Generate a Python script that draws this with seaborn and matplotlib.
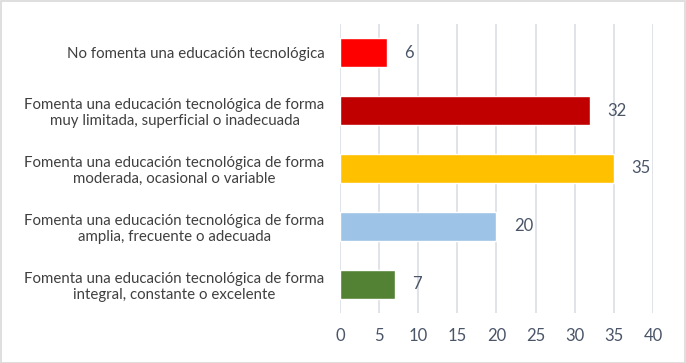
import numpy as np
import pandas as pd
import seaborn as sns
import matplotlib.pyplot as plt
from matplotlib.patches import Rectangle

categorias = [
    "No fomenta una educación tecnológica",
    "Fomenta una educación tecnológica de forma\nmuy limitada, superficial o inadecuada",
    "Fomenta una educación tecnológica de forma\nmoderada, ocasional o variable",
    "Fomenta una educación tecnológica de forma\namplia, frecuente o adecuada",
    "Fomenta una educación tecnológica de forma\nintegral, constante o excelente",
]
valores = [6, 32, 35, 20, 7]
colores = ["#FF0000", "#C00000", "#FFC000", "#9DC3E6", "#548235"]

df = pd.DataFrame({"categoria": categorias, "valor": valores})

sns.set_style("white")
plt.rcParams['font.family'] = ['Lato', 'DejaVu Sans']

fig = plt.figure(figsize=(6.86, 3.63), dpi=100)
ax = fig.add_axes([0.4956, 0.1377, 0.4563, 0.7963])

sns.barplot(data=df, x="valor", y="categoria", hue="categoria", palette=colores,
            legend=False, width=0.5, ax=ax, saturation=1)

ax.set_xlim(0, 40)
ax.set_xticks(np.arange(0, 41, 5))
ax.grid(axis="x", color="#DDE1E6", linewidth=1.3)
ax.set_axisbelow(True)
for s in ax.spines.values():
    s.set_visible(False)
ax.set_xlabel("")
ax.set_ylabel("")
ax.tick_params(axis="x", colors="#4A5568", labelsize=12, length=0, pad=11)
ax.tick_params(axis="y", colors="#404040", labelsize=10.8, length=0, pad=11)
for lab in ax.get_yticklabels():
    lab.set_multialignment("center")

for i, v in enumerate(valores):
    ax.text(v + 2.2, i, str(v), va="center", ha="left", fontsize=12, color="#4A5568")

fig.patches.append(Rectangle((0.001, 0.001), 0.997, 0.997, transform=fig.transFigure,
                             fill=False, edgecolor="#D9D9D9", linewidth=1.2))

fig.savefig("out.png", dpi=100)
